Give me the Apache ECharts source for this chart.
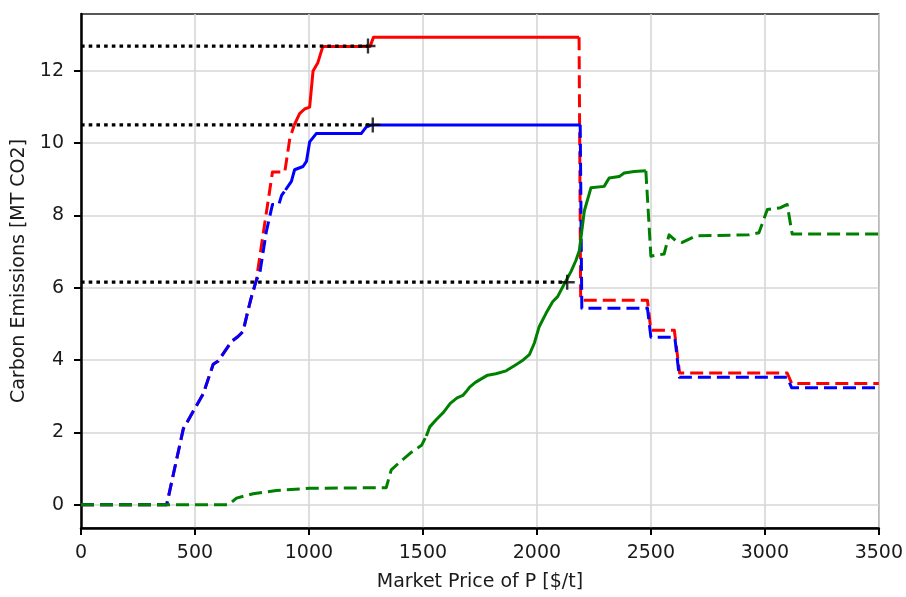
<!DOCTYPE html>
<html>
<head>
<meta charset="utf-8">
<script src="https://cdn.jsdelivr.net/npm/echarts@6/dist/echarts.min.js"></script>
<style>html,body{margin:0;padding:0;background:#fff}#c{width:906px;height:597px}</style>
</head>
<body>
<div id="c"></div>
<script>
// ---- data ----
var xTicks = [0, 500, 1000, 1500, 2000, 2500, 3000, 3500];
var yTicks = [0, 2, 4, 6, 8, 10, 12];

var redDashLow = [[0,0],[376,0],[449,2.1],[507,2.74],[536,3.06],[580,3.88],[602,3.97],[660,4.51],[689,4.65],[711,4.79],[733,5.38],[748,5.75],[769,6.2],[799,7.48],[821,8.4],[840,9.2],[894,9.2],[916,10.12],[935,10.49]];
var redSolid = [[935,10.49],[959,10.81],[981,10.94],[1003,10.99],[1018,11.99],[1039,12.22],[1061,12.67],[1268,12.67],[1283,12.92],[2185,12.92]];
var redDashHigh = [[2185,12.92],[2192,5.65],[2485,5.65],[2500,4.82],[2603,4.82],[2626,3.64],[3098,3.64],[3118,3.35],[3500,3.35]];

var blueDashLow = [[0,0],[376,0],[449,2.1],[507,2.74],[536,3.06],[580,3.88],[602,3.97],[660,4.51],[689,4.65],[711,4.79],[733,5.38],[748,5.75],[769,6.2],[784,6.38],[813,7.55],[840,8.3],[868,8.3],[880,8.55],[897,8.7]];
var blueSolid = [[897,8.7],[923,8.94],[937,9.26],[974,9.35],[989,9.49],[1003,10.03],[1032,10.26],[1229,10.26],[1251,10.44],[1275,10.5],[2190,10.5]];
var blueDashHigh = [[2190,10.5],[2197,5.43],[2485,5.43],[2500,4.63],[2605,4.63],[2625,3.52],[3098,3.52],[3118,3.23],[3500,3.23]];

var greenDashLow = [[0,0],[648,0],[682,0.18],[755,0.3],[857,0.39],[1003,0.45],[1339,0.47],[1361,0.96],[1399,1.18],[1450,1.45],[1494,1.64],[1515,1.9]];
var greenSolid = [[1515,1.9],[1530,2.15],[1560,2.36],[1590,2.55],[1620,2.8],[1650,2.95],[1675,3.02],[1689,3.12],[1705,3.25],[1730,3.38],[1784,3.58],[1820,3.62],[1865,3.7],[1908,3.87],[1940,4.0],[1967,4.15],[1989,4.47],[2010,4.92],[2040,5.29],[2069,5.61],[2091,5.75],[2120,6.1],[2150,6.45],[2171,6.75],[2186,7.02],[2208,8.12],[2237,8.76],[2295,8.8],[2317,9.03],[2361,9.07],[2383,9.17],[2427,9.21],[2478,9.23]];
var greenDashHigh = [[2478,9.23],[2500,6.87],[2558,6.93],[2580,7.46],[2609,7.3],[2638,7.25],[2697,7.43],[2930,7.46],[2974,7.52],[3011,8.16],[3069,8.21],[3098,8.3],[3120,7.48],[3500,7.48]];

var refX = [1259, 1280, 2133];
var refY = [12.68, 10.5, 6.15];

// ---- chart ----
var FONT = 'DejaVu Sans';
var DASH = [13, 6];
function line(data, color, dashed, z) {
  return {
    type: 'line', data: data, showSymbol: false, symbol: 'none', z: z,
    silent: true, animation: false,
    lineStyle: { color: color, width: 3, type: dashed ? DASH : 'solid', cap: 'butt', join: 'round' }
  };
}
var series = [
  line(redDashLow, '#ff0000', true, 2),
  line(redSolid, '#ff0000', false, 2),
  line(redDashHigh, '#ff0000', true, 2),
  line(blueDashLow, '#0000ff', true, 3),
  line(blueSolid, '#0000ff', false, 3),
  line(blueDashHigh, '#0000ff', true, 3),
  line(greenDashLow, '#008000', true, 4),
  line(greenSolid, '#008000', false, 4),
  line(greenDashHigh, '#008000', true, 4)
];
for (var i = 0; i < refX.length; i++) {
  series.push({
    type: 'line', data: [[0, refY[i]], [refX[i], refY[i]]], showSymbol: false, symbol: 'none', z: 5,
    animation: false, silent: true,
    lineStyle: { color: '#000', width: 3.3, type: [3.6, 4.1], cap: 'butt' }
  });
}
series.push({
  type: 'scatter', z: 6, animation: false, silent: true,
  data: refX.map(function (x, i) { return [x, refY[i]]; }),
  symbol: 'path://M5.9,0 H8.1 V5.9 H14 V8.1 H8.1 V14 H5.9 V8.1 H0 V5.9 H5.9 Z',
  symbolSize: 15,
  itemStyle: { color: '#000' }
});

var chart = echarts.init(document.getElementById('c'), null, { renderer: 'canvas' });
chart.setOption({
  animation: false,
  backgroundColor: '#fff',
  grid: { left: 81, right: 26, top: 14, bottom: 64, show: true, borderColor: '#222', borderWidth: 1.3, containLabel: false },
  xAxis: {
    type: 'value', min: 0, max: 3500, interval: 500,
    name: 'Market Price of P [$/t]', nameLocation: 'middle', nameGap: 45,
    nameTextStyle: { fontFamily: FONT, fontSize: 19, color: '#1a1a1a' },
    axisLine: { show: true, onZero: false, lineStyle: { color: '#000', width: 2.5 } },
    axisTick: { show: true, length: 7, lineStyle: { color: '#000', width: 2 } },
    axisLabel: { fontFamily: FONT, fontSize: 19, color: '#1a1a1a', margin: 16,
      formatter: function (v) { return String(v); } },
    splitLine: { show: true, lineStyle: { color: '#d6d6d6', width: 1.6 } }
  },
  yAxis: {
    type: 'value', min: -0.646, max: 13.566,
    name: 'Carbon Emissions [MT CO2]', nameLocation: 'middle', nameGap: 52, nameRotate: 90,
    nameTextStyle: { fontFamily: FONT, fontSize: 19, color: '#1a1a1a' },
    axisLine: { show: true, onZero: false, lineStyle: { color: '#000', width: 2.5 } },
    axisTick: { show: true, length: 7, customValues: yTicks, lineStyle: { color: '#000', width: 2 } },
    axisLabel: { fontFamily: FONT, fontSize: 19, color: '#1a1a1a', margin: 17, customValues: yTicks,
      formatter: function (v) { return String(v); } },
    splitLine: { show: true, lineStyle: { color: '#d6d6d6', width: 1.6 } }
  },
  series: series
});
</script>
</body>
</html>
